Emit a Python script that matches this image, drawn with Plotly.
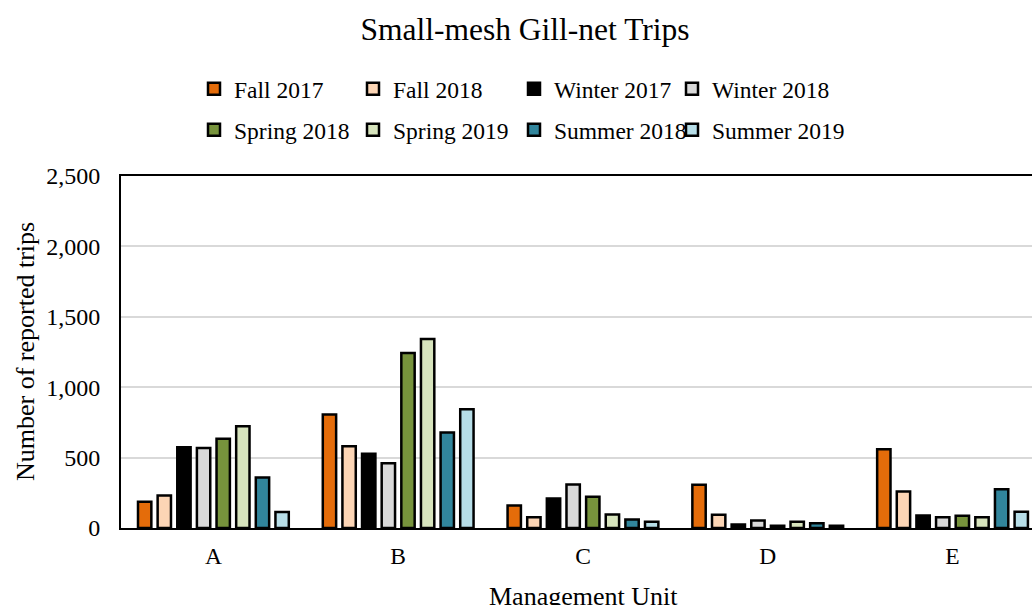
import plotly.graph_objects as go

# Management units on the category axis
units = ["A", "B", "C", "D", "E"]

# Reported small-mesh gill-net trips per season
fall_2017 = [186, 806, 160, 307, 560]
fall_2018 = [231, 581, 77, 94, 260]
winter_2017 = [574, 527, 210, 25, 89]
winter_2018 = [569, 460, 309, 54, 77]
spring_2018 = [633, 1243, 222, 16, 87]
spring_2019 = [723, 1343, 96, 45, 77]
summer_2018 = [359, 678, 61, 33, 276]
summer_2019 = [113, 843, 45, 16, 116]

season_names = ["Fall 2017", "Fall 2018", "Winter 2017", "Winter 2018",
                "Spring 2018", "Spring 2019", "Summer 2018", "Summer 2019"]
season_values = [fall_2017, fall_2018, winter_2017, winter_2018,
                 spring_2018, spring_2019, summer_2018, summer_2019]
season_colors = ["#E46C0A", "#FCD5B5", "#000000", "#D9D9D9",
                 "#77933C", "#D7E4BD", "#31859C", "#B7DEE8"]

y_ticks = [0, 500, 1000, 1500, 2000, 2500]
y_tick_text = ["0", "500", "1,000", "1,500", "2,000", "2,500"]

W, H = 1032, 605
FONT = "Liberation Serif, Times New Roman, serif"

fig = go.Figure()

# legend grid: 4 columns x 2 rows, one single-entry legend per season
col_left = [194, 353, 514, 672]
row_mid = [89, 130]

layout_legends = {}
for i, (name, vals, col) in enumerate(zip(season_names, season_values, season_colors)):
    key = "legend" if i == 0 else f"legend{i + 1}"
    fig.add_trace(go.Bar(
        x=units, y=vals, name=name, showlegend=True,
        marker=dict(color=col, line=dict(color="#000000", width=2.5)),
        legend=key,
    ))
    layout_legends[key] = dict(
        xref="container", yref="container",
        x=col_left[i % 4] / W, y=1 - row_mid[i // 4] / H,
        xanchor="left", yanchor="middle",
        bgcolor="rgba(0,0,0,0)", borderwidth=0,
        font=dict(family=FONT, size=23.5, color="#000000"),
    )

fig.update_layout(
    width=W, height=H,
    margin=dict(l=121, r=0, t=176, b=77, autoexpand=False),
    paper_bgcolor="white", plot_bgcolor="white",
    barmode="group", bargap=0.15, bargroupgap=0.32,
    showlegend=True,
    font=dict(family=FONT, size=23.5, color="#000000"),
    title=dict(text="Small-mesh Gill-net Trips",
               xref="container", yref="container",
               x=525 / W, y=1 - 29 / H, xanchor="center", yanchor="middle",
               font=dict(family=FONT, size=31.5, color="#000000")),
    **layout_legends,
)

fig.update_xaxes(
    range=[-0.5, 4.43], showgrid=False, ticks="",
    showline=True, linecolor="#000000", linewidth=2, mirror=True,
    ticklabelstandoff=6, automargin=False,
    tickfont=dict(family=FONT, size=23.5, color="#000000"),
)
fig.update_yaxes(
    range=[0, 2500], tickvals=y_ticks, ticktext=y_tick_text,
    showgrid=True, gridcolor="#D9D9D9", gridwidth=1.5, zeroline=False,
    showline=True, linecolor="#000000", linewidth=2, ticks="",
    ticklabelstandoff=14, automargin=False,
    tickfont=dict(family=FONT, size=24, color="#000000"),
)

# axis titles
fig.add_annotation(
    text="Number of reported trips", xref="paper", yref="paper",
    x=(25 - 121) / 911, y=0.5, textangle=-90,
    xanchor="center", yanchor="middle", showarrow=False,
    font=dict(family=FONT, size=26, color="#000000"),
)
fig.add_annotation(
    text="Management Unit", xref="paper", yref="paper",
    x=(583 - 121) / 911, y=(528 - 596) / 352,
    xanchor="center", yanchor="middle", showarrow=False,
    font=dict(family=FONT, size=26, color="#000000"),
)

fig.write_html("out.html")
